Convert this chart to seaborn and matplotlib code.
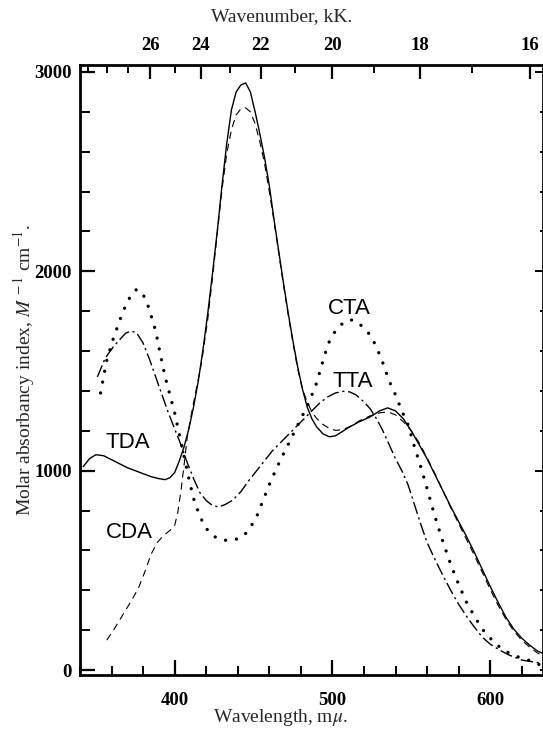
import numpy as np
import pandas as pd
import matplotlib
matplotlib.use("Agg")
import matplotlib.pyplot as plt
import seaborn as sns
from matplotlib.ticker import FixedLocator, MultipleLocator, NullFormatter

# ---- data (wavelength in m-mu, molar absorbancy index) ----
tda_wl = [342, 346, 350, 355, 360, 365, 370, 375, 380, 385, 390, 394, 397, 400, 403, 406,
          409, 412, 415, 418, 421, 424, 427, 430, 433, 436, 439, 442, 445, 448, 451, 454,
          457, 460, 463, 466, 469, 472, 475, 478, 481, 484, 487, 490, 494, 498, 502, 506,
          511, 517, 524, 530, 535, 540, 545, 550, 555, 560, 565, 570, 575, 580, 585, 590,
          595, 600, 605, 610, 615, 620, 625, 630, 633]
tda_val = [1020, 1060, 1080, 1075, 1055, 1035, 1015, 1000, 985, 970, 960, 955, 965, 990, 1050, 1120,
           1210, 1320, 1450, 1610, 1790, 1990, 2200, 2430, 2640, 2810, 2900, 2935, 2945, 2900, 2800, 2690,
           2570, 2430, 2260, 2100, 1940, 1790, 1650, 1520, 1410, 1320, 1260, 1220, 1185, 1170, 1175, 1195,
           1220, 1245, 1270, 1300, 1315, 1300, 1260, 1200, 1130, 1060, 980, 900, 820, 745, 670, 590,
           505, 420, 340, 265, 205, 160, 125, 95, 85]

cda_wl = [357, 362, 367, 372, 377, 381, 385, 389, 393, 397, 400, 402, 404, 406, 408, 411,
          414, 417, 421, 424, 427, 430, 433, 436, 439, 442, 445, 448, 451, 454, 457, 460,
          463, 466, 469, 472, 475, 478, 481, 484, 487, 490, 494, 498, 502, 506, 511, 517,
          524, 530, 535, 540, 545, 550, 555, 560, 565, 570, 575, 580, 585, 590, 595, 600,
          605, 610, 615, 620, 625, 630, 633]
cda_val = [150, 210, 275, 340, 410, 490, 580, 640, 675, 700, 725, 790, 900, 1030, 1170, 1300,
           1420, 1540, 1760, 1970, 2190, 2410, 2590, 2710, 2785, 2815, 2820, 2800, 2740, 2650, 2540, 2400,
           2250, 2090, 1930, 1780, 1640, 1510, 1410, 1345, 1295, 1262, 1232, 1212, 1202, 1205, 1220, 1250,
           1275, 1290, 1295, 1280, 1245, 1200, 1140, 1065, 985, 900, 815, 735, 655, 575, 490, 405,
           325, 255, 195, 150, 115, 85, 75]

cta_wl = [353, 357, 361, 365, 369, 373, 376, 379, 382, 385, 388, 391, 394, 397, 400, 403,
          406, 409, 412, 416, 420, 425, 430, 435, 440, 444, 448, 452, 456, 460, 465, 470,
          475, 480, 485, 490, 494, 497, 500, 504, 508, 512, 516, 520, 524, 528, 532, 536,
          540, 544, 548, 552, 556, 560, 565, 570, 575, 580, 585, 590, 595, 600, 606, 612,
          618, 624, 632]
cta_val = [1390, 1555, 1660, 1750, 1830, 1890, 1910, 1895, 1855, 1780, 1700, 1580, 1470, 1380, 1290, 1180,
           1070, 960, 860, 770, 710, 670, 652, 650, 658, 675, 715, 770, 850, 930, 1020, 1100,
           1180, 1260, 1340, 1440, 1550, 1630, 1680, 1720, 1750, 1756, 1745, 1715, 1680, 1620, 1540, 1450,
           1380, 1300, 1230, 1120, 1020, 910, 770, 645, 530, 430, 340, 270, 205, 160, 115, 85,
           65, 50, 25]

tta_wl = [351, 356, 361, 365, 369, 372.5, 376, 380, 384, 388, 392, 396, 400, 404, 408, 412,
          416, 420, 424, 428, 432, 437, 442, 447, 452, 457, 462, 467, 472, 477, 482, 487,
          492, 497, 502, 507, 511, 515, 520, 524, 528, 532, 536, 540, 544, 548, 552, 556,
          560, 565, 570, 575, 580, 585, 590, 595, 600, 606, 612, 620, 628, 632]
tta_val = [1470, 1565, 1620, 1656, 1690, 1701, 1690, 1640, 1560, 1470, 1380, 1290, 1210, 1130, 1040, 960,
           890, 850, 825, 818, 830, 853, 895, 950, 1000, 1050, 1100, 1140, 1180, 1220, 1260, 1300,
           1340, 1370, 1390, 1398, 1395, 1380, 1345, 1310, 1260, 1200, 1130, 1060, 1000, 928, 830, 732,
           640, 555, 475, 400, 330, 270, 215, 165, 130, 100, 75, 50, 40, 35]

curve_names = ["TDA", "CDA", "CTA", "TTA"]
label_x = [370, 371.5, 511, 513]
label_y = [1139, 692, 1816, 1445]

wn_major = [16, 18, 20, 22, 24, 26]
wn_minor = [17, 19, 21, 23, 25, 27, 28, 29]

# ---- figure ----
W, H = 543, 730
sns.set_theme(style="ticks")
plt.rcParams['font.family'] = ['Liberation Serif', 'DejaVu Serif']
plt.rcParams['mathtext.fontset'] = 'stix'

fig = plt.figure(figsize=(W / 100, H / 100), dpi=100)
fig.patch.set_facecolor("white")
L, R, T, B = 80, 543, 65, 675
ax = fig.add_axes([L / W, 1 - B / H, (R - L) / W, (B - T) / H])
ax.set_facecolor("white")

series = [
    (tda_wl, tda_val, dict(linestyle='-', linewidth=1.0)),
    (cda_wl, cda_val, dict(linestyle=(0, (6.5, 4.5)), linewidth=0.8)),
    (cta_wl, cta_val, dict(linestyle=(0, (0.01, 3.3)), linewidth=2.4, dash_capstyle='round')),
    (tta_wl, tta_val, dict(linestyle=(0, (9, 2.6, 1.6, 2.6)), linewidth=1.0)),
]
for (x, y, kw), name in zip(series, curve_names):
    df = pd.DataFrame({"wl": x, "val": y})
    sns.lineplot(data=df, x="wl", y="val", color="black", ax=ax, sort=False,
                 estimator=None, legend=False, **kw)

for name, tx, ty in zip(curve_names, label_x, label_y):
    ax.text(tx, ty, name, ha="center", va="center", fontsize=16,
            family=['Liberation Sans', 'DejaVu Sans'], color="black")

ax.set_xlim(340, 633.5)
ax.set_ylim(-25, 3035)
ax.set_xlabel("")
ax.set_ylabel("")

ax.xaxis.set_major_locator(FixedLocator([400, 500, 600]))
ax.xaxis.set_minor_locator(MultipleLocator(20))
ax.yaxis.set_major_locator(FixedLocator([0, 1000, 2000, 3000]))
ax.yaxis.set_minor_locator(MultipleLocator(200))

ax.tick_params(axis='x', which='major', direction='in', length=11, width=1.6,
               pad=12, labelsize=13.5, color='black', labelcolor='black')
ax.tick_params(axis='x', which='minor', direction='in', length=6.5, width=1.4, color='black')
ax.tick_params(axis='y', which='major', direction='in', length=11, width=1.6,
               pad=6, labelsize=13.5, color='black', labelcolor='black', right=False)
ax.tick_params(axis='y', which='minor', direction='in', length=7.5, width=1.4, color='black', right=False)
for lab in ax.get_xticklabels() + ax.get_yticklabels():
    lab.set_fontweight('bold')

for s in ["left", "bottom", "top", "right"]:
    ax.spines[s].set_color("black")
    ax.spines[s].set_linewidth(2.0)
ax.spines["top"].set_visible(False)
ax.spines["right"].set_visible(False)

def inv(x):
    x = np.asarray(x, dtype=float)
    with np.errstate(divide='ignore', invalid='ignore'):
        return 1e4 / x

top = ax.secondary_xaxis('top', functions=(inv, inv))
top.xaxis.set_major_locator(FixedLocator(wn_major))
top.xaxis.set_minor_locator(FixedLocator(wn_minor))
top.xaxis.set_minor_formatter(NullFormatter())
top.tick_params(axis='x', which='major', direction='in', length=10, width=1.6,
                pad=8, labelsize=13.5, color='black', labelcolor='black')
top.tick_params(axis='x', which='minor', direction='in', length=6, width=1.4, color='black')
for lab in top.get_xticklabels():
    lab.set_fontweight('bold')
top.spines['top'].set_linewidth(2.0)
top.spines['top'].set_color('black')

right = ax.secondary_yaxis('right')
right.yaxis.set_major_locator(FixedLocator([1000, 2000, 3000]))
right.yaxis.set_minor_locator(MultipleLocator(200))
right.yaxis.set_major_formatter(NullFormatter())
right.tick_params(axis='y', which='major', direction='in', length=6, width=1.4, color='black')
right.tick_params(axis='y', which='minor', direction='in', length=2.5, width=1.4, color='black')
right.spines['right'].set_linewidth(2.0)
right.spines['right'].set_color('black')

fig.text(282 / W, 1 - 17 / H, "Wavenumber, kK.", ha="center", va="center", fontsize=14)
fig.text(280 / W, 1 - 718 / H, r"Wavelength, m$\mu$.", ha="center", va="center", fontsize=14)
fig.text(24 / W, 1 - 370 / H, r"Molar absorbancy index, $M^{\,-1}$ cm$^{-1}$.",
         ha="center", va="center", rotation=90, fontsize=14)

fig.savefig("out.png", dpi=100, facecolor="white")
